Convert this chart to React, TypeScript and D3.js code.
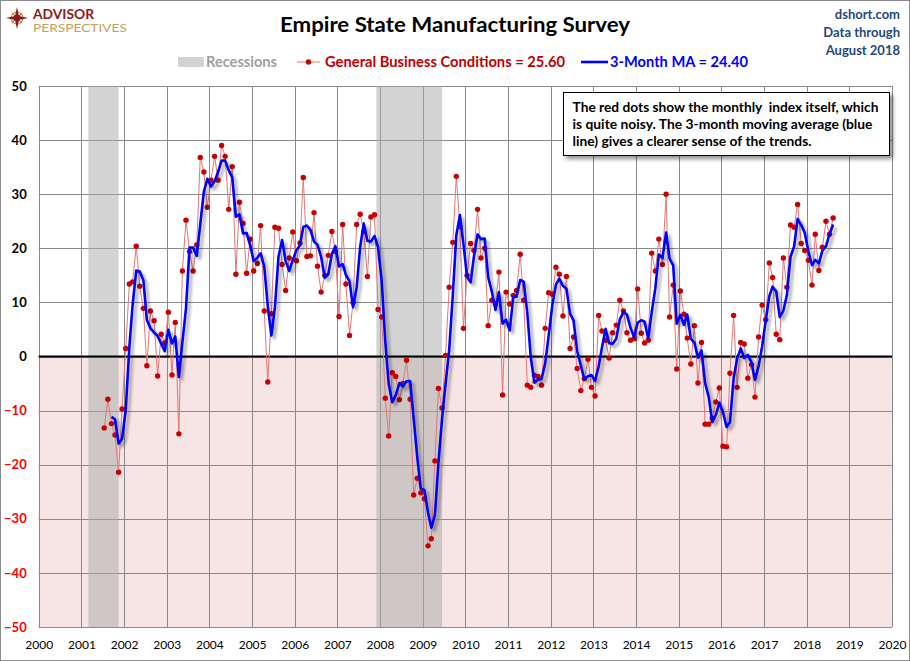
import React, { useEffect, useRef } from "react";
import * as d3 from "d3";

// General Business Conditions index, monthly from July 2001
const gbc2001 = [-13.2, -7.9, -12.4, -14.5, -21.4, -9.7];
const gbc2002 = [1.5, 13.4, 13.8, 20.4, 13.0, 8.9, -1.7, 8.4, 6.6, -3.6, 4.1, 2.5];
const gbc2003 = [8.2, -3.4, 6.3, -14.3, 15.8, 25.2, 19.4, 15.8, 20.6, 36.8, 34.1, 27.6];
const gbc2004 = [32.6, 37.0, 32.6, 39.0, 37.0, 27.2, 35.1, 15.2, 28.5, 24.6, 15.4, 21.7];
const gbc2005 = [15.8, 17.2, 24.2, 8.4, -4.7, 7.9, 23.9, 23.7, 17.0, 12.2, 18.2, 23.0];
const gbc2006 = [17.7, 21.0, 33.1, 18.5, 18.6, 26.6, 16.7, 11.9, 15.0, 18.7, 23.1, 19.4];
const gbc2007 = [7.4, 24.4, 13.4, 3.9, 10.0, 24.4, 26.3, 23.1, 14.8, 25.8, 26.2, 8.7];
const gbc2008 = [7.3, -7.7, -14.7, -3.0, -3.7, -8.0, -5.0, -0.7, -7.9, -25.6, -22.5, -25.2];
const gbc2009 = [-26.3, -35.0, -33.7, -19.3, -5.9, -9.5, 0.2, 12.8, 21.1, 33.3, 24.0, 5.2];
const gbc2010 = [15.0, 20.9, 19.6, 27.2, 18.2, 20.0, 5.7, 10.4, 9.7, 15.6, -7.1, 11.9];
const gbc2011 = [9.7, 11.3, 12.2, 18.9, 10.4, -5.3, -5.7, -3.5, -3.7, -5.3, 5.2, 11.8];
const gbc2012 = [11.5, 16.5, 15.2, 7.5, 14.8, 1.5, 3.6, -2.2, -6.3, -4.1, -0.5, -5.7];
const gbc2013 = [-7.3, 7.6, 4.7, 3.0, -0.3, 4.4, 5.8, 10.4, 8.4, 4.4, 3.0, 3.3];
const gbc2014 = [12.5, 4.3, 2.5, 3.0, 19.1, 15.8, 21.7, 17.0, 30.0, 7.3, 13.2, -2.3];
const gbc2015 = [12.1, 7.8, 3.4, -1.4, 5.7, -4.9, 2.6, -12.5, -12.5, -11.4, -8.4, -5.8];
const gbc2016 = [-16.6, -16.7, -3.1, 7.6, -5.7, 2.6, 2.3, -4.0, -1.5, -7.5, 3.6, 9.5];
const gbc2017 = [6.8, 17.3, 14.6, 4.1, 3.1, 18.2, 12.8, 24.3, 23.9, 28.1, 20.9, 19.6];
const gbc2018 = [17.8, 13.2, 22.6, 15.9, 20.2, 25.0, 22.6, 25.6];

const recessions: [string, string][] = [
  ["2001-03-01", "2001-11-15"],
  ["2007-12-01", "2009-06-15"],
];

const yTicks = [-50, -40, -30, -20, -10, 0, 10, 20, 30, 40, 50];
const yearTicks = d3.range(2000, 2021);

const noteLines = [
  "The red dots show the monthly  index itself, which",
  "is quite noisy. The 3-month moving average (blue",
  "line) gives a clearer sense of the trends.",
];
const noteWidths = [306, 300, 239];

const W = 910;
const H = 661;
const FONT = "Lato, 'Open Sans', sans-serif";

const App: React.FC = () => {
  const svgRef = useRef<SVGSVGElement>(null);

  useEffect(() => {
    if (!svgRef.current) return;
    const svg = d3.select(svgRef.current);
    svg.selectAll("*").remove();

    const values = [
      ...gbc2001, ...gbc2002, ...gbc2003, ...gbc2004, ...gbc2005, ...gbc2006,
      ...gbc2007, ...gbc2008, ...gbc2009, ...gbc2010, ...gbc2011, ...gbc2012,
      ...gbc2013, ...gbc2014, ...gbc2015, ...gbc2016, ...gbc2017, ...gbc2018,
    ];
    const data = values.map((v, i) => ({ date: new Date(2001, 6 + i, 15), v }));
    // trailing 3-month average
    const ma = data
      .map((d, i) =>
        i < 2 ? null : { date: d.date, v: d3.mean(data.slice(i - 2, i + 1), (e) => e.v) as number }
      )
      .filter((d) => d !== null) as { date: Date; v: number }[];

    const x = d3
      .scaleTime()
      .domain([new Date(2000, 0, 1), new Date(2020, 0, 1)])
      .range([38.7, 892]);
    const y = d3.scaleLinear().domain([-50, 50]).range([627, 86]);

    const defs = svg.append("defs");
    const sh = defs.append("filter").attr("id", "lineShadow").attr("x", "-5%").attr("y", "-5%").attr("width", "110%").attr("height", "110%");
    sh.append("feGaussianBlur").attr("in", "SourceAlpha").attr("stdDeviation", 1.6);
    sh.append("feOffset").attr("dx", 3).attr("dy", 3).attr("result", "b");
    sh.append("feComponentTransfer").append("feFuncA").attr("type", "linear").attr("slope", 0.35);
    const mg = sh.append("feMerge");
    mg.append("feMergeNode");
    mg.append("feMergeNode").attr("in", "SourceGraphic");

    const bs = defs.append("filter").attr("id", "boxShadow").attr("x", "-5%").attr("y", "-20%").attr("width", "115%").attr("height", "150%");
    bs.append("feGaussianBlur").attr("in", "SourceAlpha").attr("stdDeviation", 2);
    bs.append("feOffset").attr("dx", 3).attr("dy", 3);
    bs.append("feComponentTransfer").append("feFuncA").attr("type", "linear").attr("slope", 0.45);
    const mg2 = bs.append("feMerge");
    mg2.append("feMergeNode");
    mg2.append("feMergeNode").attr("in", "SourceGraphic");

    svg.append("rect").attr("x", 0.5).attr("y", 0.5).attr("width", W - 1).attr("height", H - 1)
      .attr("fill", "#fff").attr("stroke", "#8c8c8c");

    // negative zone
    svg.append("rect")
      .attr("x", x.range()[0]).attr("y", y(0))
      .attr("width", x.range()[1] - x.range()[0]).attr("height", y(-50) - y(0))
      .attr("fill", "#f7e4e4");

    // grid
    const grid = svg.append("g").attr("stroke", "#8a8a8a").attr("stroke-width", 1);
    grid.selectAll("line.h").data(yTicks).join("line")
      .attr("x1", x.range()[0]).attr("x2", x.range()[1])
      .attr("y1", (d) => Math.round(y(d)) + 0.5).attr("y2", (d) => Math.round(y(d)) + 0.5);
    grid.selectAll("line.v").data(yearTicks).join("line")
      .attr("x1", (d) => Math.round(x(new Date(d, 0, 1))) + 0.5)
      .attr("x2", (d) => Math.round(x(new Date(d, 0, 1))) + 0.5)
      .attr("y1", y(50)).attr("y2", y(-50));

    // recessions
    svg.append("g").selectAll("rect").data(recessions).join("rect")
      .attr("x", (d) => x(new Date(d[0])))
      .attr("width", (d) => x(new Date(d[1])) - x(new Date(d[0])))
      .attr("y", y(50)).attr("height", y(-50) - y(50))
      .attr("fill", "rgb(167,167,167)").attr("opacity", 0.5);

    // zero line
    svg.append("line")
      .attr("x1", x.range()[0]).attr("x2", x.range()[1])
      .attr("y1", y(0)).attr("y2", y(0))
      .attr("stroke", "#000").attr("stroke-width", 2);

    // axes labels
    const yAxis = svg.append("g")
      .attr("transform", `translate(${x.range()[0] - 12},0)`)
      .call(d3.axisLeft(y).tickValues(yTicks).tickSize(0).tickPadding(0));
    yAxis.select(".domain").remove();
    yAxis.selectAll("text")
      .attr("font-family", FONT).attr("font-size", 13).attr("font-weight", "bold")
      .attr("fill", (d: any) => (d < 0 ? "#ff0000" : "#000"));

    const xAxis = svg.append("g")
      .attr("transform", `translate(0,${y(-50) + 10})`)
      .call(d3.axisBottom(x).tickValues(yearTicks.map((yr) => new Date(yr, 0, 1))).tickFormat(d3.timeFormat("%Y") as any).tickSize(0));
    xAxis.select(".domain").remove();
    xAxis.selectAll("text").attr("font-family", FONT).attr("font-size", 12).attr("fill", "#000");

    // red series
    const line = d3.line<{ date: Date; v: number }>().x((d) => x(d.date)).y((d) => y(d.v));
    svg.append("path").datum(data)
      .attr("fill", "none").attr("stroke", "#e07878").attr("stroke-width", 1).attr("d", line);
    svg.append("g").selectAll("circle").data(data).join("circle")
      .attr("cx", (d) => x(d.date)).attr("cy", (d) => y(d.v)).attr("r", 2.7)
      .attr("fill", "#c80000");

    // moving average
    svg.append("path").datum(ma)
      .attr("fill", "none").attr("stroke", "#0000ff").attr("stroke-width", 2.6)
      .attr("stroke-linejoin", "round").attr("filter", "url(#lineShadow)").attr("d", line);

    // note box
    const note = svg.append("g");
    note.append("rect").attr("x", 563.5).attr("y", 92.5).attr("width", 326).attr("height", 63)
      .attr("fill", "#fff").attr("stroke", "#000").attr("filter", "url(#boxShadow)");
    note.selectAll("text").data(noteLines).join("text")
      .attr("x", 572.5).attr("y", (_, i) => 112 + i * 16.8)
      .attr("font-family", FONT).attr("font-size", 13.4).attr("font-weight", "bold")
      .attr("textLength", (_, i) => noteWidths[i]).attr("lengthAdjust", "spacingAndGlyphs")
      .style("white-space", "pre")
      .text((d) => d);

    // title
    svg.append("text").attr("x", 455).attr("y", 32).attr("text-anchor", "middle")
      .attr("font-family", FONT).attr("font-size", 21).attr("font-weight", "bold")
      .attr("textLength", 350).attr("lengthAdjust", "spacingAndGlyphs")
      .text("Empire State Manufacturing Survey");

    // top right source text
    ["dshort.com", "Data through", "August 2018"].forEach((t, i) => {
      svg.append("text").attr("x", 900).attr("y", 19 + i * 18).attr("text-anchor", "end")
        .attr("font-family", FONT).attr("font-size", 13).attr("font-weight", "bold")
        .attr("fill", "#1f497d").text(t);
    });

    // legend
    const lg = svg.append("g").attr("font-family", FONT).attr("font-size", 14.5).attr("font-weight", "bold");
    lg.append("rect").attr("x", 178).attr("y", 57).attr("width", 26).attr("height", 10).attr("fill", "#d3d3d3");
    lg.append("text").attr("x", 206).attr("y", 67).attr("fill", "#a0a0a0")
      .attr("textLength", 71).attr("lengthAdjust", "spacingAndGlyphs").text("Recessions");
    lg.append("line").attr("x1", 297).attr("x2", 320).attr("y1", 62).attr("y2", 62).attr("stroke", "#e07878");
    lg.append("circle").attr("cx", 308.5).attr("cy", 62).attr("r", 2.7).attr("fill", "#c80000");
    lg.append("text").attr("x", 325).attr("y", 67).attr("fill", "#c00000")
      .attr("textLength", 240).attr("lengthAdjust", "spacingAndGlyphs").text("General Business Conditions = 25.60");
    lg.append("line").attr("x1", 581).attr("x2", 608).attr("y1", 62).attr("y2", 62).attr("stroke", "#0000ff").attr("stroke-width", 2.6);
    lg.append("text").attr("x", 610).attr("y", 67).attr("fill", "#0000ff")
      .attr("textLength", 138).attr("lengthAdjust", "spacingAndGlyphs").text("3-Month MA = 24.40");

    // logo
    const logo = svg.append("g");
    logo.append("circle").attr("cx", 17).attr("cy", 18).attr("r", 6).attr("fill", "none").attr("stroke", "#c9a25a").attr("stroke-width", 1.2);
    logo.append("path")
      .attr("d", "M17,7 L19,16 L28,18 L19,20 L17,29 L15,20 L6,18 L15,16 Z")
      .attr("fill", "#8b1a1a");
    logo.append("path")
      .attr("d", "M11,12 L17.5,17 L23,12 L18,18.5 L23,24 L16.5,19 L11,24 L16,17.5 Z")
      .attr("fill", "#8b1a1a");
    logo.append("text").attr("x", 33).attr("y", 19).attr("font-family", FONT).attr("font-size", 13.5)
      .attr("font-weight", "bold").attr("fill", "#8b1a1a")
      .attr("textLength", 61).attr("lengthAdjust", "spacingAndGlyphs").text("ADVISOR");
    logo.append("text").attr("x", 33).attr("y", 32).attr("font-family", FONT).attr("font-size", 11.5)
      .attr("fill", "#c9a25a")
      .attr("textLength", 94).attr("lengthAdjust", "spacingAndGlyphs").text("PERSPECTIVES");
  }, []);

  return (
    <svg
      ref={svgRef}
      width={W}
      height={H}
      style={{ position: "absolute", left: 0, top: 0, display: "block" }}
    />
  );
};

export default App;
